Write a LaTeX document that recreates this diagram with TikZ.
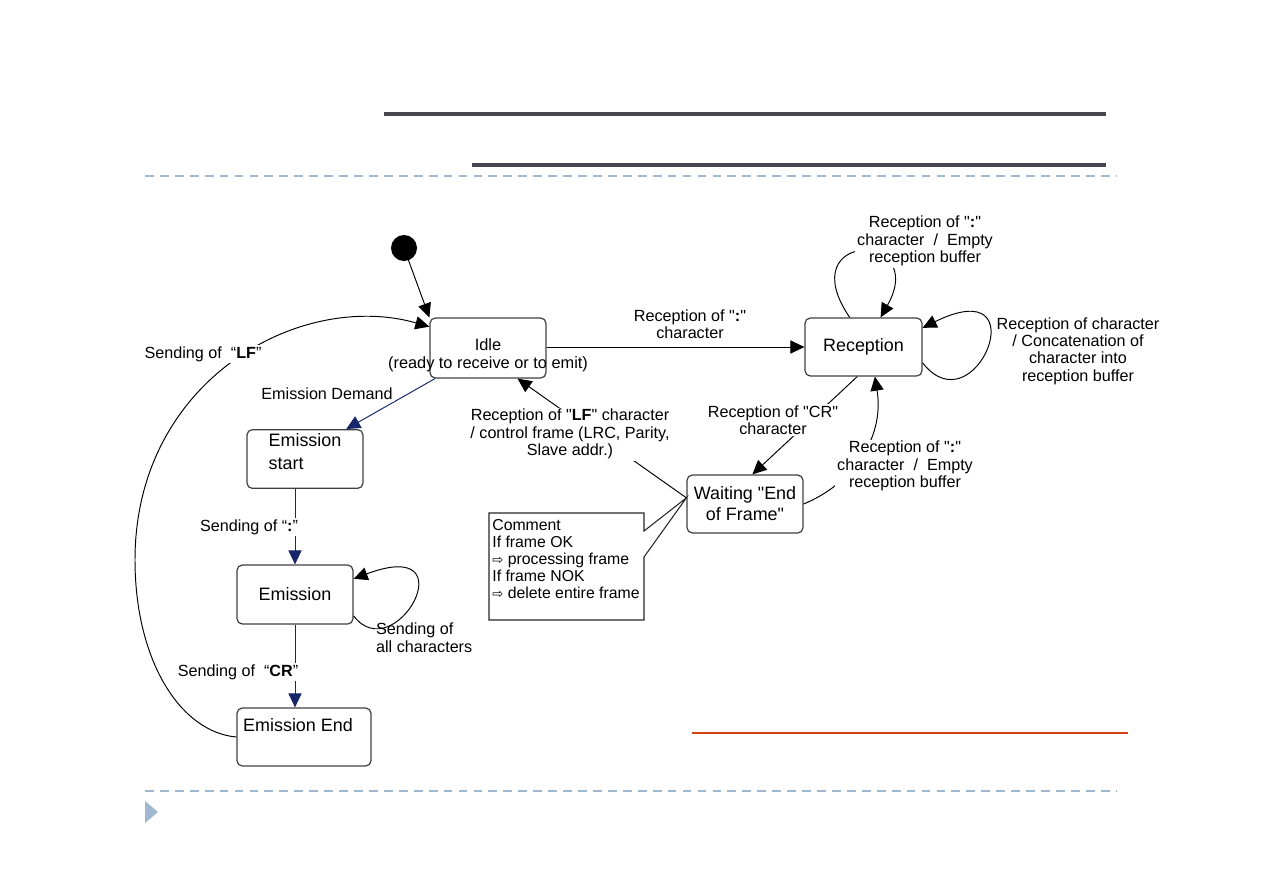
\documentclass[tikz,border=0pt]{standalone}
\usepackage{fontspec}
\setmainfont{Liberation Sans}[Ligatures=TeXOff]
\newfontfamily\arrowfont{DejaVu Sans}
\usetikzlibrary{arrows.meta, positioning, calc}
\definecolor{navyline}{RGB}{22,38,104}
\definecolor{headbar}{RGB}{72,70,80}
\definecolor{dashblue}{RGB}{160,185,208}
\definecolor{redbar}{RGB}{208,64,16}
\newcommand{\notearrow}{{\arrowfont\fontsize{7.5}{9}\selectfont ⇨}}
\tikzset{
  state/.style  = {draw=black!75, rounded corners=3pt, line width=0.7pt, align=center,
                   font=\fontsize{10.2}{12}\selectfont, inner sep=2pt},
  lbl/.style    = {align=center, font=\fontsize{9.2}{9.8}\selectfont, inner sep=1pt},
  trans/.style  = {-{Triangle[length=8pt, width=7.5pt]}, line width=0.55pt, draw=black},
  emit/.style   = {-{Triangle[length=8pt, width=7.5pt]}, line width=0.55pt, draw=navyline},
  notebox/.style= {align=left, font=\fontsize{9}{9.7}\selectfont, inner sep=0pt},
  dashrule/.style = {draw=dashblue, line width=0.8pt, dash pattern=on 5pt off 3.5pt}
}
\begin{document}
\begin{tikzpicture}[x=0.02cm, y=-0.02cm]
\useasboundingbox (0,0) rectangle (1263,893);

% slide frame
\draw[headbar, line width=2.3pt] (384,114) -- (1106,114);
\draw[headbar, line width=2.3pt] (472,165) -- (1106,165);
\draw[dashrule] (145,176) -- (1117,176);
\draw[dashrule] (145,791) -- (1117,791);
\draw[redbar, line width=0.8pt] (692,733) -- (1128,733);
\fill[dashblue] (145,801) -- (158,812) -- (145,823) -- cycle;

% states
\fill                          (404,248) circle (13) coordinate (init);
\node[state, minimum width=2.32cm, minimum height=1.2cm] at (488,348) (idle)
      {};
\node[font=\fontsize{9.3}{10.3}\selectfont, align=center, inner sep=0pt] at (488,355) (idletxt)
      {Idle\\(ready to receive or to emit)};
\node[state, minimum width=2.34cm, minimum height=1.16cm] at (863.5,347) (rec)  {Reception};
\node[state, minimum width=2.32cm, minimum height=1.16cm, align=left] at (305,459) (estart)
      {Emission\\[1pt]start\\[-3pt]\mbox{}};
\node[state, minimum width=2.32cm, minimum height=1.18cm] at (295,594.5) (emis) {Emission};
\node[state, minimum width=2.68cm, minimum height=1.16cm] at (304,737) (eend) {};
\node[font=\fontsize{10.2}{12}\selectfont, inner sep=0pt] at (298,725) (eendtxt) {Emission End};
\node[state, minimum width=2.32cm, minimum height=1.16cm] at (745,504) (wait)
      {Waiting "End\\of Frame"};

% comment
\node[notebox, anchor=north west] at (492,519) (note)
      {Comment\\If frame OK\\\notearrow\ processing frame\\If frame NOK\\\notearrow\ delete entire frame};
\coordinate (ntl) at (489,513);
\coordinate (nbr) at (644,620);
\draw[black!85, line width=0.6pt] (ntl) -- (ntl -| nbr) -- ($(ntl -| nbr)+(0,18)$)
      -- (wait.174) -- ($(ntl -| nbr)+(0,44)$) -- (nbr) -- (ntl |- nbr) -- cycle;

% transitions
\draw[trans] (init) -- (idle.north west);
\draw[trans] (idle.east |- rec.west) -- (rec.west);
\node[lbl] at (690,324) (l1) {Reception of "\textbf{:}"\\character};

\draw[trans] (rec.115) .. controls (790,230) and (930,230) .. (rec.60);
\node[lbl, fill=white] at (925,241) (l2) {Reception of "\textbf{:}"\\character\ \ /\ \ Empty\\reception buffer};

\draw[trans] (rec.-15) .. controls (975,430) and (1040,270) .. (rec.18);
\node[lbl] at (1078,351) (l3) {Reception of character\\/ Concatenation of\\character into\\reception buffer};

\draw[trans] (rec.-102) -- (wait.76);
\node[lbl, fill=white] at (773,420) (l4) {Reception of "CR"\\character};

\draw[trans] (wait.east) .. controls (850,485) and (885,440) .. (rec.-69);
\node[lbl, fill=white] at (905,466) (l5) {Reception of "\textbf{:}"\\character\ \ /\ \ Empty\\reception buffer};

\draw[trans] (wait.174) -- (idle.-46);
\node[lbl, fill=white] at (570,434) (l6) {Reception of "\textbf{LF}" character\\/ control frame (LRC, Parity,\\Slave addr.)};

\draw[emit] (idle.-150) -- (estart.36);
\node[lbl, fill=white] at (327,394) (l7) {Emission Demand};

\draw[emit] (estart.south -| emis.north) -- (emis.north);
\node[lbl, fill=white] at (249,527) (l8) {Sending of “\textbf{:}”};

\draw[emit] (emis) -- (eend.north -| emis);
\node[lbl, fill=white] at (238,672) (l9) {Sending of\ \ “\textbf{CR}”};

\draw[trans] (emis.-20) .. controls (395,670) and (470,535) .. (emis.15);
\node[lbl, align=left, anchor=north west] at (374,621) (l10) {Sending of\\all characters};

\draw[trans] (eend.west) .. controls (180,732) and (135,660) .. (135,560)
      .. controls (135,380) and (300,290) .. (idle.160);
\node[lbl, fill=white] at (203,354) (l11) {Sending of\ \ “\textbf{LF}”};
\end{tikzpicture}
\end{document}
